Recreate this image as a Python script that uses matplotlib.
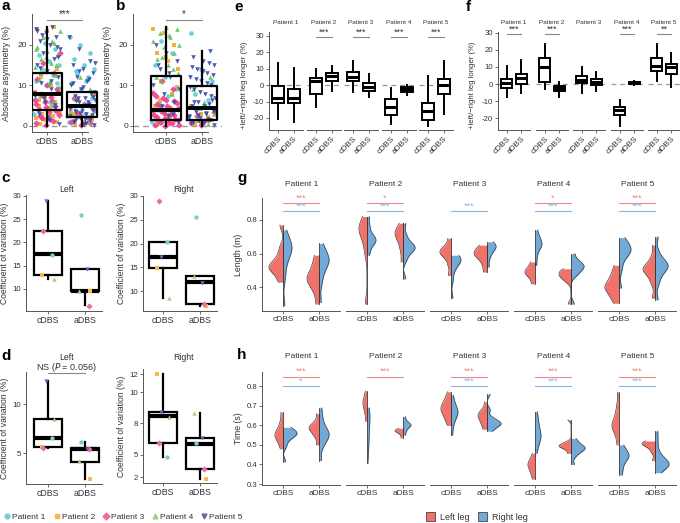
import numpy as np
import matplotlib
matplotlib.use("Agg")
import matplotlib.pyplot as plt
from matplotlib.lines import Line2D
from matplotlib.patches import Patch

plt.rcParams['font.family'] = ['Liberation Sans', 'DejaVu Sans']
plt.rcParams['axes.unicode_minus'] = False

# ---------------- data ----------------
patients = ['Patient 1', 'Patient 2', 'Patient 3', 'Patient 4', 'Patient 5']
conditions = ['cDBS', 'aDBS']

# panel a: absolute asymmetry (%) per patient, cDBS / aDBS
a_cdbs = [
    [3, 6, 7.5, 9, 10, 11, 12.5, 14, 15, 16, 17.5, 19, 20.5, 8, 5, 13, 10.5],
    [0.5, 1, 1.5, 2, 2.5, 3, 3.5, 4, 5, 6, 7, 8.5, 10, 12, 14, 23.5, 24, 24.5, 1.8, 3.2, 4.5, 6.5],
    [0.3, 0.8, 1.2, 2, 2.8, 3.5, 4.2, 5, 5.8, 6.5, 7.2, 8, 9, 10, 11.5, 13, 15.5, 18,
     1.6, 2.4, 3.8, 4.6, 5.4, 6.2, 7.6, 8.5],
    [6, 8, 9.5, 10.5, 11.5, 12.5, 13.5, 14.5, 15.5, 16.5, 17.5, 18.5, 19.5, 20.5, 22, 23.5,
     11, 13, 15, 17, 19, 21],
    [0.5, 1.5, 3, 4.5, 6, 7.5, 9, 10.5, 12, 13.5, 15, 16.5, 18, 19, 20, 21, 22, 23, 24, 24.5,
     22.5, 17, 2.2, 3.8, 5.2, 6.8, 8.2, 11.2, 14.2, 19.5, 21.5, 23.5],
]
a_adbs = [
    [1, 3, 5, 7, 9, 10.5, 12, 13, 14, 15, 16.5, 18, 20, 22, 11, 13.5],
    [0.5, 1.5, 2.5, 3.5, 5, 6.5, 8, 1, 3],
    [0.3, 1, 2, 3, 4, 5.5, 7, 0.6, 2.5],
    [1, 2.5, 4, 5.5, 7, 9, 12, 3.2],
    [0.2, 0.5, 1, 1.5, 2, 2.5, 3, 3.5, 4, 4.5, 5, 5.5, 6, 6.5, 7, 7.5, 8, 9, 10, 11,
     12, 13, 14, 15, 16, 19, 22, 0.8, 1.8, 2.8, 3.8, 4.8, 5.8, 6.8, 8.5,
     0.4, 1.2, 2.2, 3.2, 4.2, 5.2, 6.2, 7.2, 9.5, 10.5, 11.5, 13.5, 15.5, 1.6, 3.6, 4.4],
]
# panel b
b_cdbs = [
    [1, 3, 6, 9, 12, 15, 18, 21, 4.5, 7.5],
    [0.5, 1.5, 3, 5, 8, 11, 14, 16, 18, 20, 23, 24, 2.2, 6.5, 9.5, 17],
    [0.1, 0.3, 0.6, 1, 1.4, 1.8, 2.3, 2.8, 3.3, 3.8, 4.4, 5, 5.7, 6.5, 7.5, 9, 11,
     0.2, 0.8, 1.2, 1.6, 2.0, 2.6, 3.0, 3.6, 4.1, 4.8, 5.4, 6.1, 7.0, 8.2],
    [8, 11, 13, 15, 16.5, 18, 19.5, 21, 22, 23, 24, 24.5, 12, 14, 17, 20, 22.5],
    [1, 2.5, 4, 6, 8, 10, 12, 14, 16, 18, 20, 3, 5, 9, 13, 15],
]
b_adbs = [
    [2, 5, 8, 11, 14, 23, 6.5],
    [0.5, 1.5, 3, 5, 2.2],
    [0.3, 0.8, 1.5, 2.5, 3.5, 1.1],
    [0.5, 1.5, 3, 6, 9, 12, 4.5],
    [0.2, 0.6, 1, 1.5, 2, 2.5, 3, 3.5, 4, 4.5, 5, 5.5, 6, 7, 8, 9, 10, 11, 12, 13,
     14, 15, 16, 17, 18.5, 1.2, 2.2, 3.2, 4.2, 6.5, 0.4, 0.8, 1.8, 2.8, 3.8, 4.8, 5.8,
     7.5, 8.5, 9.5, 10.5, 11.5, 12.5, 13.5, 14.5, 15.5],
]
# box stats [whislo, q1, med, q3, whishi] for cDBS, aDBS
a_box = [[0, 4, 8, 13, 24.5], [0, 2.2, 4.8, 8.3, 8.3]]
b_box = [[0, 1.5, 4, 12.3, 24.5], [0, 1.5, 4.5, 9.9, 18.5]]
a_sig, b_sig = '***', '*'

# panel c: coefficient of variation (%) per patient (P1..P5)
c_left_cdbs = [17.4, 13.1, 22.4, 12.1, 28.9]
c_left_adbs = [25.9, 9.6, 6.4, 9.6, 14.2]
c_right_cdbs = [20.4, 14.9, 28.9, 8.6, 17.1]
c_right_adbs = [25.6, 6.8, 7.2, 13.2, 11.6]
c_left_box = [[12.1, 13.0, 17.5, 22.5, 28.9], [6.6, 9.5, 9.6, 14.2, 14.2]]
c_right_box = [[8.6, 14.9, 17.2, 20.4, 20.4], [6.8, 7.2, 11.8, 13.2, 13.2]]

# panel d
d_left_cdbs = [6.5, 5.6, 5.5, 8.5, 12.4]
d_left_adbs = [6.1, 2.3, 5.45, 4.15, 5.45]
d_right_cdbs = [3.97, 12.0, 5.27, 7.85, 8.34]
d_right_adbs = [5.27, 1.78, 2.75, 8.2, 5.8]
d_left_box = [[5.5, 5.6, 6.5, 8.5, 12.4], [2.4, 4.1, 5.45, 5.5, 6.1]]
d_right_box = [[3.97, 5.27, 7.97, 8.34, 12.0], [1.78, 2.75, 5.2, 5.8, 8.2]]
d_right_ticklabels = ['12', '10', '8', '5', '2']
d_left_sig = 'NS (P = 0.056)'

# panel e: +left/-right leg longer (%) box stats per patient [cDBS, aDBS]
e_box = [
    [[-20.9, -11.1, -7.7, -0.6, 13.6], [-22.7, -11.1, -7.9, -2.6, 10.1]],
    [[-13.6, -5.5, 2.4, 4.3, 9.9], [-3.6, 2.2, 5.5, 7.5, 11.5]],
    [[-4.0, 2.4, 4.7, 8.1, 14.6], [-7.1, -3.4, -1.0, 1.2, 6.5]],
    [[-23.9, -18.0, -13.2, -8.3, -1.6], [-6.1, -4.0, -2.6, -1.4, 0.0]],
    [[-24.9, -21.3, -15.6, -10.7, 5.5], [-17.8, -5.7, 0.0, 3.8, 14.6]],
]
e_sig = ['', '***', '***', '***', '***']
f_box = [
    [[-7.8, -2.3, 0.8, 3.1, 10.7], [-5.4, 0.2, 3.7, 5.8, 13.8]],
    [[-3.1, 1.4, 10.1, 15.5, 23.6], [-7.4, -4.1, -2.5, -1.2, 1.4]],
    [[-5.0, 0.4, 2.3, 4.5, 9.7], [-4.1, -0.8, 1.4, 2.7, 6.8]],
    [[-24.2, -18.0, -15.1, -13.2, -9.3], [-0.4, 0.0, 0.6, 1.2, 1.6]],
    [[1.9, 7.8, 10.7, 15.3, 23.6], [-1.6, 6.0, 9.9, 11.6, 18.4]],
]
f_sig = ['***', '***', '', '***', '**']

# panel g: step length (m), representative values per half violin
g_left_cdbs = [
    [0.43, 0.47, 0.50, 0.51, 0.52, 0.53, 0.55, 0.58, 0.63, 0.77],
    [0.30, 0.60, 0.66, 0.70, 0.72, 0.74, 0.75, 0.77, 0.79, 0.82],
    [0.47, 0.53, 0.57, 0.59, 0.60, 0.61, 0.62, 0.63, 0.65, 0.69],
    [0.42, 0.45, 0.47, 0.48, 0.49, 0.50, 0.51, 0.53, 0.55],
    [0.305, 0.34, 0.37, 0.39, 0.40, 0.41, 0.43, 0.46, 0.49, 0.53],
]
g_right_cdbs = [
    [0.29, 0.45, 0.53, 0.58, 0.61, 0.63, 0.64, 0.66, 0.69, 0.74],
    [0.59, 0.63, 0.66, 0.67, 0.68, 0.69, 0.70, 0.73, 0.77, 0.82],
    [0.335, 0.44, 0.50, 0.53, 0.55, 0.56, 0.57, 0.58, 0.59],
    [0.53, 0.58, 0.62, 0.64, 0.65, 0.66, 0.67, 0.69, 0.71, 0.74],
    [0.395, 0.50, 0.56, 0.59, 0.61, 0.62, 0.63, 0.65, 0.67, 0.695],
]
g_left_adbs = [
    [0.30, 0.37, 0.41, 0.43, 0.45, 0.46, 0.48, 0.51, 0.55, 0.59],
    [0.55, 0.62, 0.66, 0.69, 0.71, 0.72, 0.73, 0.75, 0.78],
    [0.49, 0.53, 0.56, 0.58, 0.59, 0.60, 0.61, 0.62, 0.64, 0.65],
    [0.30, 0.43, 0.45, 0.46, 0.47, 0.48, 0.49, 0.50, 0.51],
    [0.335, 0.42, 0.46, 0.49, 0.50, 0.51, 0.52, 0.54, 0.58, 0.65],
]
g_right_adbs = [
    [0.31, 0.42, 0.48, 0.52, 0.54, 0.56, 0.57, 0.59, 0.62, 0.66],
    [0.45, 0.56, 0.60, 0.62, 0.63, 0.64, 0.65, 0.67, 0.71, 0.78],
    [0.52, 0.57, 0.60, 0.62, 0.63, 0.64, 0.65, 0.66, 0.67],
    [0.30, 0.47, 0.49, 0.51, 0.52, 0.53, 0.54, 0.56, 0.60],
    [0.325, 0.42, 0.47, 0.50, 0.52, 0.53, 0.54, 0.56, 0.61, 0.70],
]
# peak half-widths (px) [left cDBS, right cDBS, left aDBS, right aDBS]
g_width = [[14, 9, 12, 10], [8, 9, 8, 12], [11, 10, 13, 9], [10, 7, 12, 13], [14, 12, 12, 13]]
g_sig_left = ['***', '*', '', '*', '***']
g_sig_right = ['***', '***', '***', '***', '***']

# panel h: step time (s)
h_left_cdbs = [
    [0.48, 0.51, 0.53, 0.54, 0.55, 0.56, 0.57, 0.59, 0.62, 0.667],
    [0.62, 0.66, 0.68, 0.70, 0.71, 0.72, 0.73, 0.75, 0.776],
    [0.60, 0.63, 0.65, 0.67, 0.68, 0.69, 0.70, 0.72, 0.74, 0.772],
    [0.325, 0.35, 0.37, 0.385, 0.395, 0.405, 0.415, 0.43, 0.457],
    [0.50, 0.55, 0.58, 0.59, 0.60, 0.61, 0.63, 0.66, 0.70, 0.77],
]
h_right_cdbs = [
    [0.414, 0.49, 0.52, 0.54, 0.55, 0.555, 0.56, 0.57, 0.58, 0.59],
    [0.405, 0.47, 0.51, 0.53, 0.58, 0.62, 0.64, 0.65, 0.66, 0.69],
    [0.55, 0.60, 0.63, 0.65, 0.66, 0.67, 0.68, 0.70, 0.72, 0.755],
    [0.457, 0.50, 0.52, 0.54, 0.55, 0.56, 0.58, 0.61, 0.64, 0.67],
    [0.346, 0.38, 0.41, 0.43, 0.44, 0.45, 0.46, 0.48, 0.50],
]
h_left_adbs = [
    [0.50, 0.54, 0.56, 0.575, 0.585, 0.59, 0.60, 0.62, 0.66],
    [0.535, 0.55, 0.56, 0.565, 0.57, 0.572, 0.575, 0.58, 0.585],
    [0.58, 0.60, 0.62, 0.635, 0.645, 0.655, 0.665, 0.68, 0.72],
    [0.457, 0.475, 0.485, 0.49, 0.495, 0.50, 0.505, 0.515, 0.628],
    [0.42, 0.46, 0.48, 0.495, 0.50, 0.505, 0.51, 0.515, 0.52],
]
h_right_adbs = [
    [0.42, 0.49, 0.52, 0.54, 0.55, 0.56, 0.575, 0.60, 0.64, 0.69],
    [0.55, 0.57, 0.585, 0.595, 0.60, 0.605, 0.61, 0.625, 0.645],
    [0.57, 0.585, 0.60, 0.605, 0.61, 0.615, 0.625, 0.64, 0.68, 0.76],
    [0.40, 0.44, 0.46, 0.47, 0.48, 0.485, 0.49, 0.50, 0.515, 0.533],
    [0.358, 0.38, 0.39, 0.40, 0.405, 0.41, 0.42, 0.44, 0.47, 0.52, 0.571],
]
h_width = [[8, 14, 10, 10], [4, 3, 8, 8], [10, 7, 9, 14], [7, 6, 12, 14], [7, 10, 13, 14]]
h_sig_left = ['***', '***', '***', '***', '***']
h_sig_right = ['*', '', '***', '***', '***']

legs = ['Left leg', 'Right leg']

# ---------------- style ----------------
W, H = 680, 523
fig = plt.figure(figsize=(W / 100, H / 100), dpi=100)

pcol = ['#55cfd6', '#f6a828', '#ee3d8e', '#62c25a', '#3b4aa6']
pcol_soft = ['#74d1cf', '#f6b857', '#ea6fa2', '#a2cf7f', '#6b69b3']
pmark = ['o', 's', 'D', '^', 'v']
red, blue = '#f2726a', '#72a9d6'
red_t, blue_t = '#ef8a85', '#8cb6dc'
axcol = '#555555'
FS = 6.0


def add(l, t, r, b):
    return fig.add_axes([l / W, 1 - b / H, (r - l) / W, (b - t) / H])


def style(ax, left=True, fs=FS):
    for s in ['top', 'right']:
        ax.spines[s].set_visible(False)
    ax.spines['bottom'].set_color(axcol)
    ax.spines['bottom'].set_linewidth(0.7)
    if left:
        ax.spines['left'].set_color(axcol)
        ax.spines['left'].set_linewidth(0.7)
    else:
        ax.spines['left'].set_visible(False)
        ax.tick_params(axis='y', left=False, labelleft=False)
    ax.tick_params(length=2, width=0.6, color=axcol, labelsize=fs, labelcolor='#333333', pad=1.5)
    ax.patch.set_alpha(0)


def stats(v):
    return dict(whislo=v[0], q1=v[1], med=v[2], q3=v[3], whishi=v[4], fliers=[])


def boxes(ax, bx, width, lw=1.5, mlw=2.6, fill=None, z=3):
    if fill is not None:
        bprops = dict(linewidth=lw, edgecolor='black', facecolor=fill)
    else:
        bprops = dict(linewidth=lw, color='black')
    ax.bxp([stats(v) for v in bx], positions=range(len(bx)), widths=width,
           showcaps=False, showfliers=False, patch_artist=fill is not None,
           boxprops=bprops,
           medianprops=dict(linewidth=mlw, color='black', solid_capstyle='butt'),
           whiskerprops=dict(linewidth=lw, color='black'), zorder=z, manage_ticks=False)


def jitter(n, k, amp):
    i = np.arange(n)
    return (((i * 0.6180339887 + k * 0.237) % 1.0) - 0.5) * 2 * amp


def panel_label(x, y, s):
    fig.text(x / W, 1 - y / H, s, fontsize=11, fontweight='bold', va='center', ha='left')


def ylab(x, y, s, fs=FS):
    fig.text(x / W, 1 - y / H, s, rotation=90, va='center', ha='center', fontsize=fs, color='#333333')


# ---------------- panels a, b ----------------
for (l, r, xl, data_c, data_a, bx, sig, lab, ylx, lbx) in [
        (32, 100, (-0.43, 1.51), a_cdbs, a_adbs, a_box, a_sig, 'a', 7, 2),
        (133, 222, (-0.92, 1.56), b_cdbs, b_adbs, b_box, b_sig, 'b', 108, 116)]:
    ax = add(l, 14, r, 132)
    style(ax)
    for ci, dset in enumerate([data_c, data_a]):
        for k in range(5):
            v = np.array(dset[k])
            ax.scatter(ci + jitter(len(v), k, 0.38), v, s=11, marker=pmark[k], color=pcol[k],
                       alpha=0.9, linewidths=0, zorder=2)
    boxes(ax, bx, 0.85, lw=1.6, mlw=2.8, z=3)
    ax.axhline(0, color='#999999', lw=1, ls=(0, (4, 3)), zorder=1)
    ax.set_xlim(*xl)
    ax.set_ylim(-1.5, 27.65)
    ax.set_yticks([0, 10, 20])
    ax.set_xticks([0, 1])
    ax.set_xticklabels(conditions)
    ax.tick_params(axis='x', labelsize=FS + 0.3)
    ax.spines['bottom'].set_bounds(xl[0], 1.17)
    ax.plot([0, 1], [26.2, 26.2], color='#888888', lw=0.8, clip_on=False)
    ax.text(0.5, 26.4, sig, ha='center', va='bottom', fontsize=7, color='#333333')
    panel_label(lbx, 6, lab)
    ylab(ylx, 73, 'Absolute asymmetry (%)', fs=FS + 0.3)

# ---------------- panels c, d ----------------
cd_specs = [
    (26, 195, 103, 311, (-0.59, 1.49), (5.27, 30.2), c_left_cdbs, c_left_adbs, c_left_box,
     [10, 15, 20, 25, 30], None, 'Left', 189),
    (143, 196, 220, 311, (-0.54, 1.54), (5.79, 30.0), c_right_cdbs, c_right_adbs, c_right_box,
     [10, 15, 20, 25, 30], None, 'Right', 189),
    (26, 372, 103, 484, (-0.59, 1.49), (1.84, 13.27), d_left_cdbs, d_left_adbs, d_left_box,
     [5, 10], None, 'Left', 357),
    (143, 369, 220, 483, (-0.54, 1.54), (1.42, 12.49), d_right_cdbs, d_right_adbs, d_right_box,
     [12, 10.25, 7.24, 4.14, 2], d_right_ticklabels, 'Right', 357),
]
pt_off = [0.1, -0.15, -0.12, 0.16, -0.05]
for i, (l, t, r, b, xl, yl, vc, va, bx, yt, ytl, title, ty) in enumerate(cd_specs):
    ax = add(l, t, r, b)
    style(ax, fs=FS - 0.3)
    boxes(ax, bx, 0.76, lw=1.6, mlw=3.0, fill='white', z=2)
    for ci, vals in enumerate([vc, va]):
        for k in range(5):
            ax.scatter(ci + pt_off[k] * (1 if ci == 0 else -1), vals[k], s=10, marker=pmark[k],
                       color=pcol_soft[k], linewidths=0, zorder=4, clip_on=False)
    ax.set_xlim(*xl)
    ax.set_ylim(*yl)
    ax.set_yticks(yt)
    if ytl is not None:
        ax.set_yticklabels(ytl)
    ax.set_xticks([0, 1])
    ax.set_xticklabels(conditions)
    ax.tick_params(axis='x', labelsize=FS + 0.3)
    ax.spines['bottom'].set_bounds(xl[0], 1.45)
    fig.text(((l + r) / 2 + 2) / W, 1 - ty / H, title, ha='center', va='center', fontsize=FS + 0.3,
             color='#333333')
    ylab(l - 21, (t + b) / 2, 'Coefficient of variation (%)', fs=FS + 0.2)
    if i == 2:
        ax.plot([0, 1], [13.2, 13.2], color='#888888', lw=0.8, clip_on=False)
        fig.text(66 / W, 1 - 368 / H, r'NS ($\it{P}$ = 0.056)', ha='center', va='center',
                 fontsize=FS + 0.5, color='#333333')
panel_label(1, 178, 'c')
panel_label(1, 356, 'd')

# ---------------- panels e, f ----------------
for (lefts, wd, yl, bxs, sigs, lab, lx, ylx) in [
        ([269, 307, 344, 382, 419], 34, (-27.3, 32.2), e_box, e_sig, 'e', 234, 245),
        ([498, 536, 573, 611, 648], 32, (-26.8, 30.4), f_box, f_sig, 'f', 466, 473)]:
    for p in range(5):
        ax = add(lefts[p], 32, lefts[p] + wd, 130)
        style(ax, left=(p == 0), fs=FS - 0.4)
        boxes(ax, bxs[p], 0.75, lw=1.4, mlw=2.2, fill='white', z=3)
        ax.axhline(0, color='#999999', lw=0.9, ls=(0, (4, 3)), zorder=1)
        ax.set_xlim(-0.6, 1.6)
        ax.set_ylim(*yl)
        ax.set_yticks([-20, -10, 0, 10, 20, 30])
        ax.set_xticks([0, 1])
        ax.set_xticklabels(conditions, rotation=45, ha='right', rotation_mode='anchor')
        ax.tick_params(axis='x', labelsize=FS)
        fig.text((lefts[p] + wd / 2) / W, 1 - 23 / H, patients[p], ha='center', va='center',
                 fontsize=4.6, color='#333333')
        if sigs[p]:
            ax.plot([0, 1], [29.0, 29.0], color='#888888', lw=0.8, clip_on=False)
            ax.text(0.5, 29.3, sigs[p], ha='center', va='bottom', fontsize=6.5, color='#333333')
    panel_label(lx, 7, lab)
    ylab(ylx, 85, '+left/\u2212right leg longer (%)', fs=FS - 0.4)


# ---------------- panels g, h ----------------
def half_violin(ax, x, vals, wpx, side, color):
    v = np.asarray(vals, float)
    lo, hi = v.min(), v.max()
    q75, q25 = np.percentile(v, [75, 25])
    bw = 0.9 * min(v.std(), (q75 - q25) / 1.34) * len(v) ** (-0.2)
    grid = np.linspace(lo, hi, 300)
    d = np.exp(-0.5 * ((grid[:, None] - v[None, :]) / bw) ** 2).sum(1)
    d = d / d.max() * wpx / 36.0
    xs = x + side * d
    ax.fill_betweenx(grid, x, xs, color=color, lw=0, zorder=2)
    ax.plot(xs, grid, color='#3a3a3a', lw=0.5, zorder=3)
    ax.plot([x, x], [lo, hi], color='#3a3a3a', lw=0.6, zorder=3)


lefts_gh = [262, 346, 430, 514, 598]
for (t, b, yl, yt, L_c, R_c, L_a, R_a, wid, sl, sr, yred, yblue, ttl_y, lab, lab_y, ylabel) in [
        (198, 311, (0.259, 0.93), [0.4, 0.6, 0.8], g_left_cdbs, g_right_cdbs, g_left_adbs, g_right_adbs,
         g_width, g_sig_left, g_sig_right, 0.90, 0.85, 184, 'g', 178, 'Length (m)'),
        (372, 485, (0.295, 0.873), [0.3, 0.4, 0.5, 0.6, 0.7, 0.8], h_left_cdbs, h_right_cdbs,
         h_left_adbs, h_right_adbs, h_width, h_sig_left, h_sig_right, 0.849, 0.80, 357, 'h', 355,
         'Time (s)')]:
    for p in range(5):
        ax = add(lefts_gh[p], t, lefts_gh[p] + 78, b)
        style(ax, left=(p == 0), fs=FS - 0.4)
        half_violin(ax, 0, L_c[p], wid[p][0], -1, red)
        half_violin(ax, 0, R_c[p], wid[p][1], 1, blue)
        half_violin(ax, 1, L_a[p], wid[p][2], -1, red)
        half_violin(ax, 1, R_a[p], wid[p][3], 1, blue)
        ax.set_xlim(-0.58, 1.58)
        ax.set_ylim(*yl)
        ax.set_yticks(yt)
        ax.set_xticks([0, 1])
        ax.set_xticklabels(conditions)
        ax.tick_params(axis='x', labelsize=FS)
        if sl[p]:
            ax.plot([0, 1], [yred, yred], color=red_t, lw=0.8, clip_on=False)
            ax.text(0.5, yred + 0.003, sl[p], ha='center', va='bottom', fontsize=6.5, color=red_t)
        if sr[p]:
            ax.plot([0, 1], [yblue, yblue], color=blue_t, lw=0.8, clip_on=False)
            ax.text(0.5, yblue + 0.003, sr[p], ha='center', va='bottom', fontsize=6.5, color=blue_t)
        fig.text((lefts_gh[p] + 40) / W, 1 - ttl_y / H, patients[p], ha='center', va='center',
                 fontsize=FS, color='#333333')
    panel_label(237, lab_y, lab)
    ylab(239, (t + b) / 2, ylabel, fs=FS + 0.3)

# ---------------- legends ----------------
ph = [Line2D([], [], ls='none', marker=pmark[k], color=pcol_soft[k], markersize=3.5) for k in range(5)]
fig.legend(ph, patients, loc='center left', bbox_to_anchor=(-0.005, 1 - 517 / H), ncol=5, frameon=False,
           fontsize=FS, handletextpad=0.2, columnspacing=0.9, handlelength=0.8, labelcolor='#333333')
lh = [Patch(facecolor=red, edgecolor='#444444', lw=0.6), Patch(facecolor=blue, edgecolor='#444444', lw=0.6)]
fig.legend(lh, legs, loc='center left', bbox_to_anchor=(418 / W, 1 - 517 / H), ncol=2, frameon=False,
           fontsize=FS + 0.5, handletextpad=0.5, columnspacing=1.0, handlelength=1.0, handleheight=1.0,
           labelcolor='#333333')

fig.savefig('out.png', dpi=100)
